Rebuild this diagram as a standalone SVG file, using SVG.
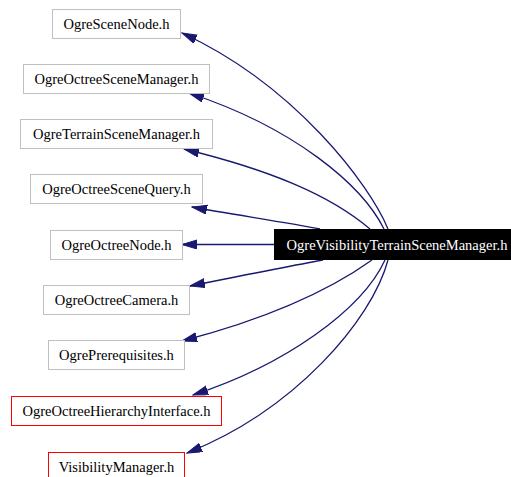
<svg xmlns="http://www.w3.org/2000/svg" width="511" height="477" viewBox="0 0 511 477">
<style>
text{font-family:"Liberation Serif","Times New Roman",serif;font-size:14.5px;text-anchor:middle;fill:#000}
.g{fill:#fff;stroke:#bfbfbf;stroke-width:1}
.r{fill:#fff;stroke:#ff0000;stroke-width:1}
.e{fill:none;stroke:#191970;stroke-width:1.3;marker-end:url(#a)}
</style>
<defs>
<marker id="a" markerUnits="userSpaceOnUse" markerWidth="16" markerHeight="10" refX="15" refY="4.5" orient="auto">
<path d="M0,0 L15,4.5 L0,9 z" fill="#191970" stroke="#191970"/>
</marker>
</defs>
<rect width="511" height="477" fill="#fff"/>
<g id="edges">
<path class="e" d="M388,229 C370,185 295,85 182,33"/>
<path class="e" d="M384,229 C362,185 295,128 189,93"/>
<path class="e" d="M370,229 C330,195 270,170 184,149"/>
<path class="e" d="M320,229 C290,223 230,214 192,207"/>
<path class="e" d="M274,244.5 L182,244.5"/>
<path class="e" d="M323,260 C290,266 230,278 190,286"/>
<path class="e" d="M372,260 C330,290 270,318 182,341"/>
<path class="e" d="M385,260 C362,310 285,365 193,395"/>
<path class="e" d="M388,260 C372,320 295,410 187,453"/>
</g>
<g id="main"><rect x="274.5" y="229.5" width="240" height="30" fill="#000" stroke="#000"/><text x="397" y="249.5" style="fill:#fff">OgreVisibilityTerrainSceneManager.h</text></g>
<g id="n1"><rect class="g" x="52.5" y="9.5" width="128" height="29"/><text x="116.5" y="28.5">OgreSceneNode.h</text></g>
<g id="n2"><rect class="g" x="23.5" y="64.5" width="186" height="29"/><text x="116.5" y="83.5">OgreOctreeSceneManager.h</text></g>
<g id="n3"><rect class="g" x="20.5" y="119.5" width="192" height="29"/><text x="116.5" y="138.5">OgreTerrainSceneManager.h</text></g>
<g id="n4"><rect class="g" x="30.5" y="174.5" width="172" height="29"/><text x="116.5" y="193.5">OgreOctreeSceneQuery.h</text></g>
<g id="n5"><rect class="g" x="50.5" y="230.5" width="132" height="29"/><text x="116.5" y="249.5">OgreOctreeNode.h</text></g>
<g id="n6"><rect class="g" x="43.5" y="285.5" width="146" height="29"/><text x="116.5" y="304.5">OgreOctreeCamera.h</text></g>
<g id="n7"><rect class="g" x="48.5" y="340.5" width="136" height="29"/><text x="116.5" y="359.5">OgrePrerequisites.h</text></g>
<g id="n8"><rect class="r" x="11.5" y="396.5" width="210" height="29"/><text x="116.5" y="415.5">OgreOctreeHierarchyInterface.h</text></g>
<g id="n9"><rect class="r" x="48.5" y="452.5" width="136" height="29"/><text x="116.5" y="471.5">VisibilityManager.h</text></g>
</svg>
